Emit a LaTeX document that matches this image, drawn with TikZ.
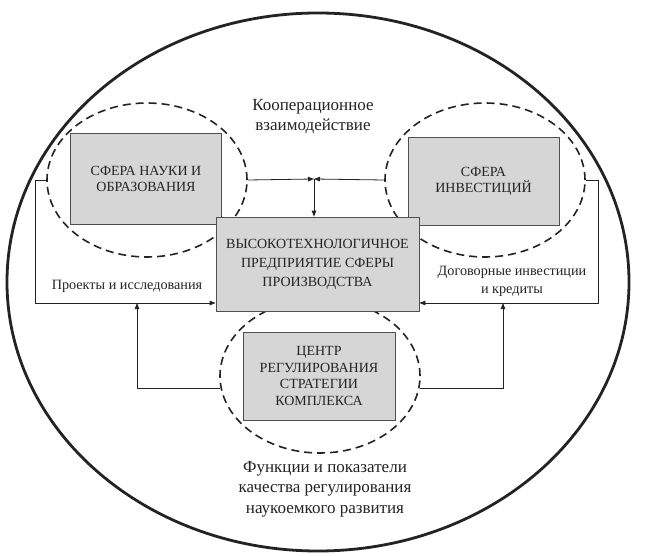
\documentclass[tikz,border=0pt]{standalone}
\usepackage{fontspec}
\setmainfont{Liberation Serif}
\usetikzlibrary{arrows.meta,shapes.geometric}
\definecolor{boxfill}{RGB}{214,214,214}
\definecolor{ink}{RGB}{35,35,35}
\begin{document}
\begin{tikzpicture}[x=1pt,y=-1pt,
  outer/.style={draw=ink,line width=2.8pt,ellipse,minimum width=622pt,minimum height=538pt,inner sep=0pt},
  zone/.style={draw=ink,line width=1.6pt,dash pattern=on 8pt off 5pt,ellipse,minimum width=200pt,minimum height=154pt,inner sep=0pt},
  block/.style={draw=ink!80,line width=0.8pt,fill=boxfill,align=center,inner sep=0pt,text=ink},
  lab/.style={align=center,text=ink,inner sep=0pt},
  arr/.style={draw=ink,line width=0.8pt,line join=miter,-{Triangle[length=6pt,width=4.5pt]}},
  ln/.style={draw=ink,line width=0.8pt}]
\useasboundingbox (0,0) rectangle (647,556);
\node[outer] (out) at (318,282) {};
\node[zone] (lc) at (147,180) {};
\node[zone] (rc) at (485,180) {};
\node[zone] (bc) at (320,376) {};
\node[block,minimum width=151pt,minimum height=91pt,font=\fontsize{14}{16}\selectfont] (lb) at (146,178.5) {СФЕРА НАУКИ И\\ОБРАЗОВАНИЯ};
\node[block,minimum width=151pt,minimum height=88pt,font=\fontsize{14}{16}\selectfont] (rb) at (483.5,181) {СФЕРА\\ИНВЕСТИЦИЙ};
\node[block,minimum width=203pt,minimum height=94pt,font=\fontsize{14}{19}\selectfont] (cb) at (317.5,264) {ВЫСОКОТЕХНОЛОГИЧНОЕ\\ПРЕДПРИЯТИЕ СФЕРЫ\\ПРОИЗВОДСТВА};
\node[block,minimum width=152pt,minimum height=88pt,font=\fontsize{14}{16.5}\selectfont] (bb) at (319,376) {ЦЕНТР\\РЕГУЛИРОВАНИЯ\\СТРАТЕГИИ\\КОМПЛЕКСА};
\node[lab,font=\fontsize{17}{20}\selectfont] (coop) at (313,117) {Кооперационное\\взаимодействие};
\node[lab,font=\fontsize{14.2}{18}\selectfont] (proj) at (127,286) {Проекты и исследования};
\node[lab,font=\fontsize{14.2}{18}\selectfont] (dog) at (512,281) {Договорные инвестиции\\и кредиты};
\node[lab,font=\fontsize{17}{20.5}\selectfont] (func) at (325,489) {Функции и показатели\\качества регулирования\\наукоемкого развития};
\coordinate (m) at (314,179);
\coordinate (pl) at (137,303);
\coordinate (pr) at (503,303);
\draw[arr] (lc.east) -- (m);
\draw[arr] (rc.west) -- (m);
\draw[arr] (m) -- (m |- cb.north);
\draw[arr] (lc.west) -- (35,180) |- (cb.west |- pl);
\draw[arr] (rc.east) -- (598,180) |- (cb.east |- pr);
\draw[arr] (bc.187) -| (pl);
\draw[arr] (bc.353) -| (pr);
\end{tikzpicture}
\end{document}
